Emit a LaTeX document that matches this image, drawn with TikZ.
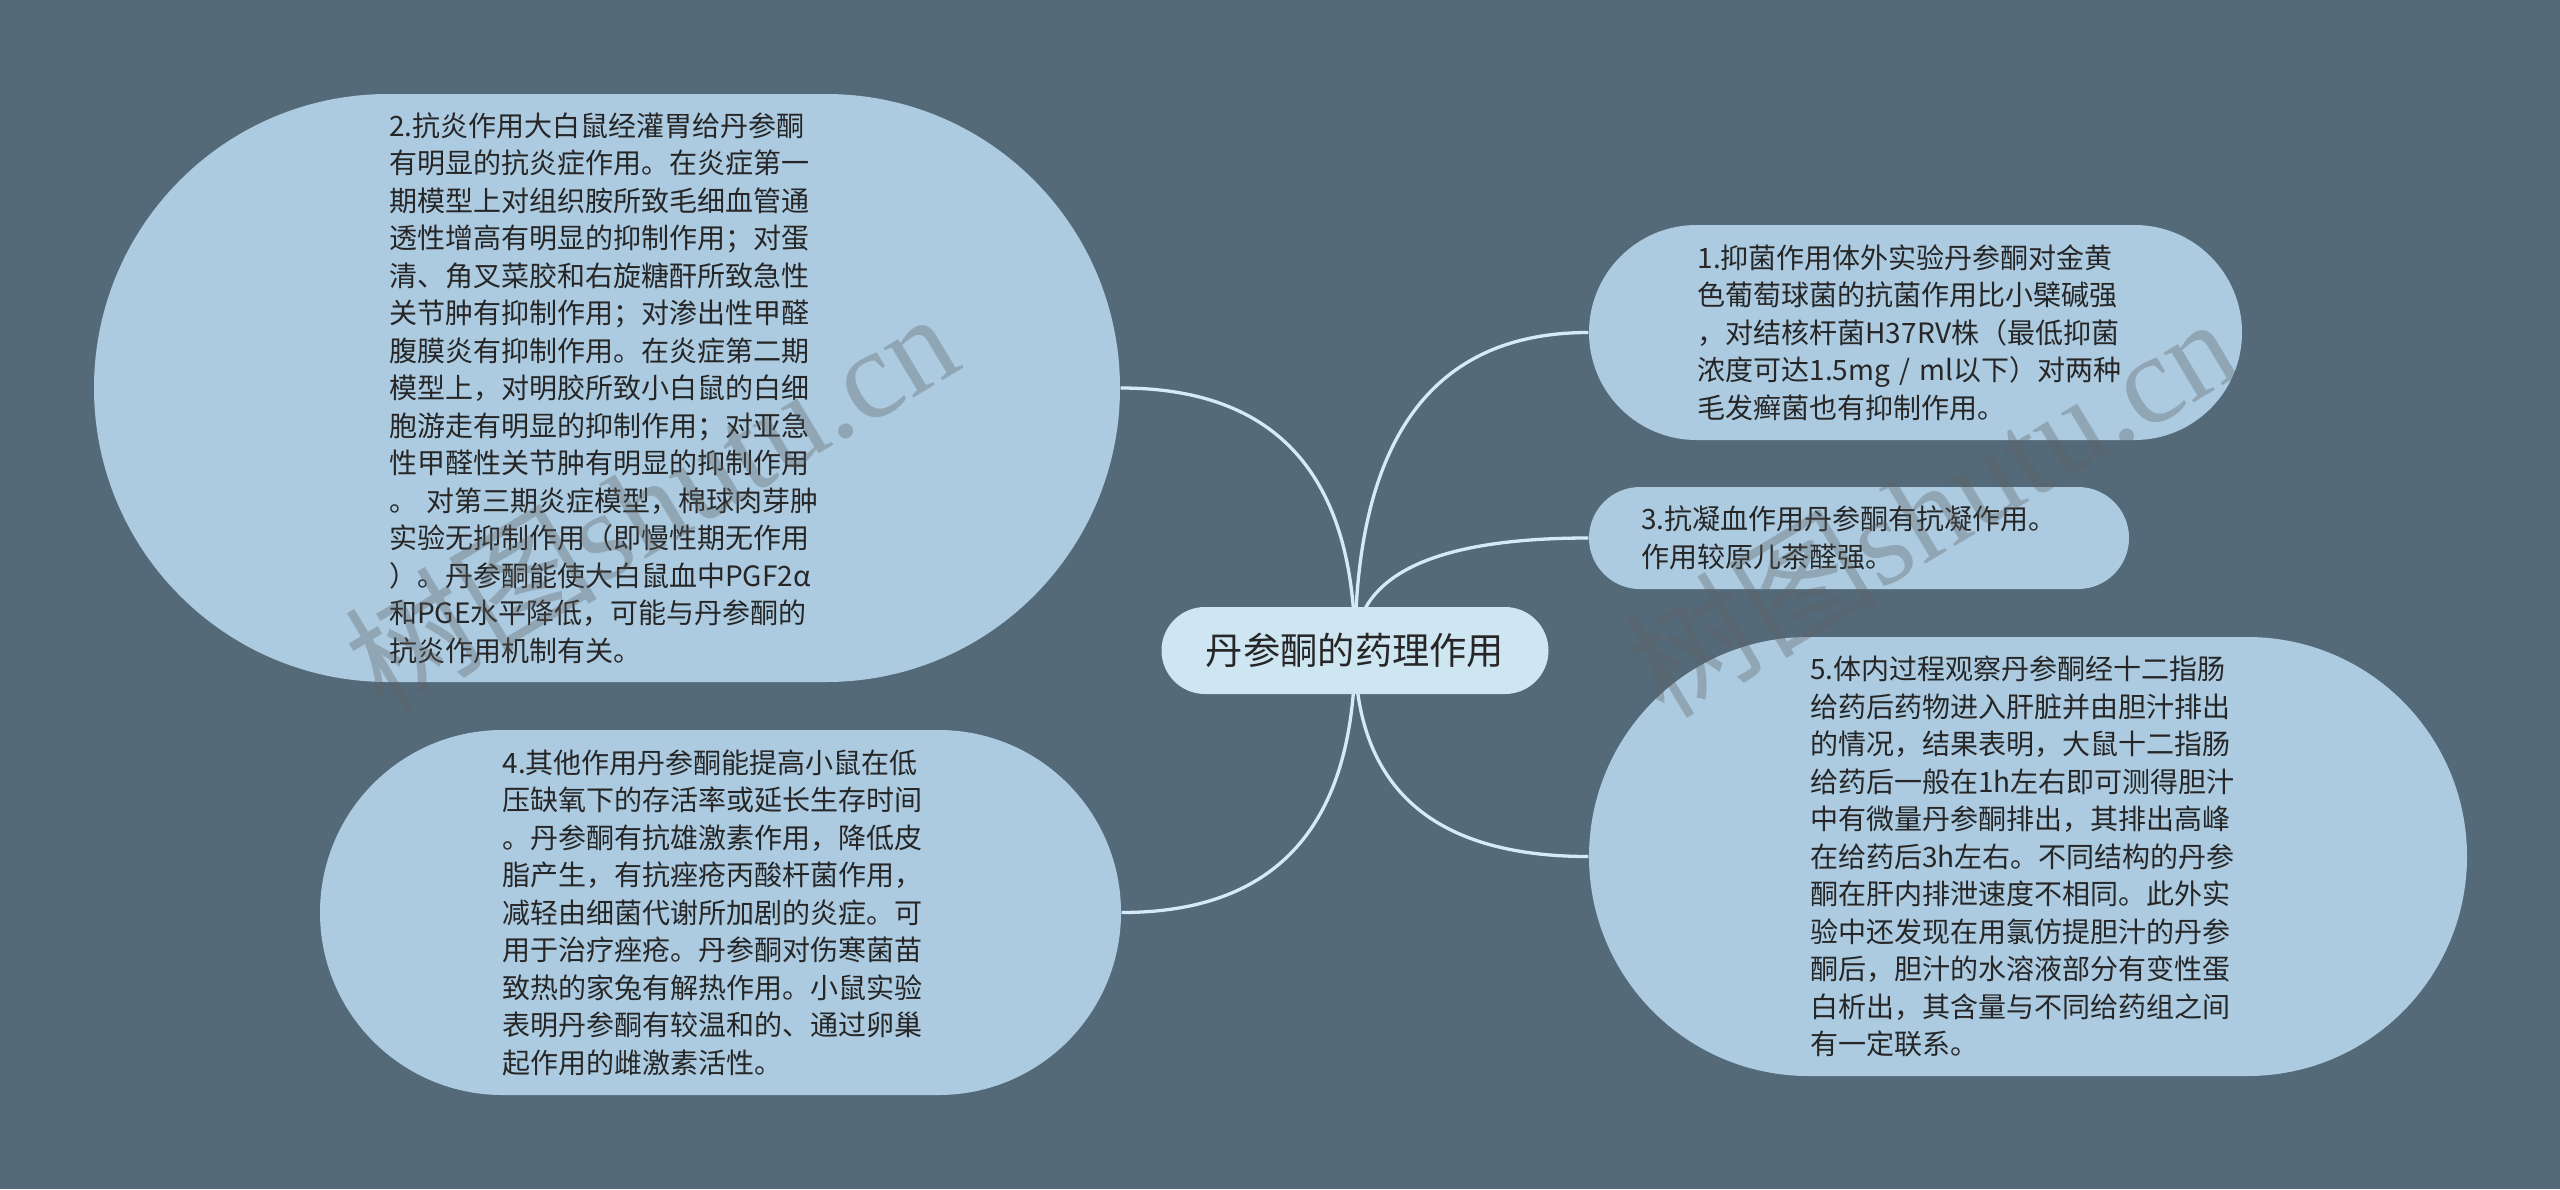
\documentclass[tikz,border=0pt]{standalone}
\usepackage{fontspec}
\newfontfamily\cjk{Noto Sans CJK SC}
\newfontfamily\wmlatin{Liberation Serif}
\usetikzlibrary{calc}

\definecolor{bgslate}{RGB}{84,106,121}
\definecolor{leafblue}{RGB}{172,203,225}
\definecolor{rootblue}{RGB}{206,229,242}
\definecolor{linkblue}{RGB}{212,234,246}
\definecolor{inkgray}{RGB}{38,38,38}
\definecolor{wmgray}{RGB}{95,95,95}

\pgfdeclarelayer{back}
\pgfdeclarelayer{links}
\pgfsetlayers{back,links,main}

\begin{document}
\begin{tikzpicture}
\newcommand{\leafsize}{\fontsize{7.97pt}{10.67pt}\selectfont}
\newcommand{\rootsize}{\fontsize{10.6pt}{12pt}\selectfont}
\newcommand{\branch}[2]{
  \coordinate (k#1) at (root.center |- #1.#2);
  \draw[link] (root.center) .. controls ($(root.center)!2/3!(k#1)$) and ($(#1.#2)!2/3!(k#1)$) .. (#1.#2);
}

\tikzset{ leaf/.style 2 args={fill=leafblue, minimum width=#1,
    minimum height=#2, rounded corners=0.5*#2, inner sep=0pt,
    text width=4.36cm, align=left, text=inkgray, font=\cjk\leafsize},
  rootbox/.style={fill=rootblue, minimum width=3.87cm,
    minimum height=0.87cm, rounded corners=0.435cm, inner sep=0pt,
    text=inkgray, font=\cjk\rootsize},
  link/.style={draw=linkblue, line width=0.33mm},
  watermark/.style={rotate=31, text=wmgray, opacity=0.34,
    font=\cjk\fontsize{36pt}{38pt}\selectfont}
}

\begin{pgfonlayer}{back}
  \fill[bgslate] (0,0) rectangle (25.6,-11.89);
\end{pgfonlayer}

\node[rootbox] (root) at (13.55,-6.505) {丹参酮的药理作用};

\node[leaf={6.53cm}{2.15cm}] (n1) at (19.155,-3.325) {1.抑菌作用体外实验丹参酮对金黄\\色葡萄球菌的抗菌作用比小檗碱强\\，对结核杆菌H37RV株（最低抑菌\\浓度可达1.5mg / ml以下）对两种\\毛发癣菌也有抑制作用。};

\node[leaf={10.26cm}{5.88cm}] (n2) at (6.07,-3.88) {2.抗炎作用大白鼠经灌胃给丹参酮\\有明显的抗炎症作用。在炎症第一\\期模型上对组织胺所致毛细血管通\\透性增高有明显的抑制作用；对蛋\\清、角叉菜胶和右旋糖酐所致急性\\关节肿有抑制作用；对渗出性甲醛\\腹膜炎有抑制作用。在炎症第二期\\模型上，对明胶所致小白鼠的白细\\胞游走有明显的抑制作用；对亚急\\性甲醛性关节肿有明显的抑制作用\\。 对第三期炎症模型，棉球肉芽肿\\实验无抑制作用（即慢性期无作用\\）。丹参酮能使大白鼠血中PGF2α\\和PGE水平降低，可能与丹参酮的\\抗炎作用机制有关。};

\node[leaf={5.40cm}{1.02cm}] (n3) at (18.59,-5.38) {3.抗凝血作用丹参酮有抗凝作用。\\作用较原儿茶醛强。};

\node[leaf={8.01cm}{3.65cm}] (n4) at (7.205,-9.125) {4.其他作用丹参酮能提高小鼠在低\\压缺氧下的存活率或延长生存时间\\。丹参酮有抗雄激素作用，降低皮\\脂产生，有抗痤疮丙酸杆菌作用，\\减轻由细菌代谢所加剧的炎症。可\\用于治疗痤疮。丹参酮对伤寒菌苗\\致热的家兔有解热作用。小鼠实验\\表明丹参酮有较温和的、通过卵巢\\起作用的雌激素活性。};

\node[leaf={8.78cm}{4.39cm}] (n5) at (20.28,-8.565) {5.体内过程观察丹参酮经十二指肠\\给药后药物进入肝脏并由胆汁排出\\的情况，结果表明，大鼠十二指肠\\给药后一般在1h左右即可测得胆汁\\中有微量丹参酮排出，其排出高峰\\在给药后3h左右。不同结构的丹参\\酮在肝内排泄速度不相同。此外实\\验中还发现在用氯仿提胆汁的丹参\\酮后，胆汁的水溶液部分有变性蛋\\白析出，其含量与不同给药组之间\\有一定联系。};

\begin{pgfonlayer}{links}
  \branch{n1}{west}
  \branch{n2}{east}
  \branch{n3}{west}
  \branch{n4}{east}
  \branch{n5}{west}
\end{pgfonlayer}

\node[watermark] (wm1) at (6.5,-5.0) {树图{\wmlatin shutu.cn}};
\node[watermark] (wm2) at (19.3,-5.05) {树图{\wmlatin shutu.cn}};

\end{tikzpicture}
\end{document}
